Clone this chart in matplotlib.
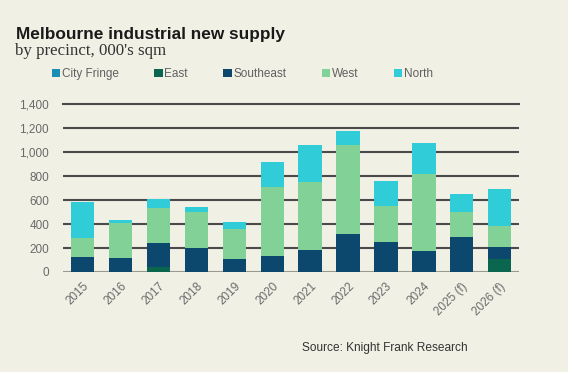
import matplotlib.pyplot as plt
from matplotlib.patches import Patch
import numpy as np

years = ["2015", "2016", "2017", "2018", "2019", "2020", "2021",
         "2022", "2023", "2024", "2025 (f)", "2026 (f)"]
city_fringe = [0, 0, 0, 0, 0, 0, 0, 0, 0, 0, 0, 0]
east = [0, 0, 44, 0, 0, 0, 0, 0, 0, 0, 0, 106]
southeast = [127, 114, 195, 197, 106, 133, 181, 314, 247, 172, 289, 105]
west = [159, 292, 292, 303, 250, 573, 569, 744, 303, 650, 208, 175]
north = [300, 25, 77, 44, 61, 213, 314, 123, 208, 259, 156, 306]

series = [
    ("City Fringe", city_fringe, "#1a8fb3"),
    ("East", east, "#0b6650"),
    ("Southeast", southeast, "#0c476e"),
    ("West", west, "#82d197"),
    ("North", north, "#30ccd7"),
]

bg = "#f0f0e5"
fig = plt.figure(figsize=(5.68, 3.72), dpi=100, facecolor=bg)
ax = fig.add_axes([63 / 568, 1 - 272 / 372, (519 - 63) / 568, (272 - 104.3) / 372])
ax.set_facecolor(bg)

x = np.arange(len(years))
bottom = np.zeros(len(years))
for name, vals, color in series:
    ax.bar(x, vals, width=0.615, bottom=bottom, color=color, zorder=3)
    bottom += np.array(vals)

ax.set_xlim(-0.52, 11.51)
ax.set_ylim(0, 1400)
ax.set_yticks(range(0, 1401, 200))
ax.set_yticklabels([f"{v:,}" for v in range(0, 1401, 200)])
ax.yaxis.grid(True, color="#4a4a4a", linewidth=1.5, zorder=0)
ax.get_ygridlines()[0].set_color("#9a9a92")
ax.get_ygridlines()[-1].set_clip_on(False)
for s in ax.spines.values():
    s.set_visible(False)
ax.tick_params(axis="y", length=0, pad=10, labelsize=8.5, labelcolor="#6a6a6a")
ax.tick_params(axis="x", length=0, pad=6, labelsize=8.5, labelcolor="#6a6a6a")
ax.set_xticks(x)
ax.set_xticklabels(years, rotation=45, ha="right", rotation_mode="anchor")
for lab in ax.get_xticklabels() + ax.get_yticklabels():
    lab.set_family("Liberation Sans")

fig.text(16 / 568, 1 - 39 / 372, "Melbourne industrial new supply",
         family="Liberation Sans", weight="bold", fontsize=12.4, color="#1a1a1a",
         va="baseline")
fig.text(15 / 568, 1 - 55 / 372, "by precinct, 000's sqm",
         family="Liberation Serif", fontsize=12.2, color="#333333", va="baseline")

handles = [Patch(facecolor=c, edgecolor="none", label=n) for n, _, c in series]
fig.legend(handles=handles, loc="center left", bbox_to_anchor=(52 / 568, 1 - 74 / 372),
           ncol=5, frameon=False, handlelength=0.7, handleheight=0.7,
           handletextpad=0.15, columnspacing=3.0, prop={"family": "Liberation Sans", "size": 8.5},
           labelcolor="#606060", borderaxespad=0, borderpad=0)

fig.text(468 / 568, 1 - 348 / 372, "Source: Knight Frank Research",
         family="Liberation Sans", fontsize=8.6, color="#333333", ha="right", va="center")

fig.savefig("out.png", dpi=100, facecolor=bg)
